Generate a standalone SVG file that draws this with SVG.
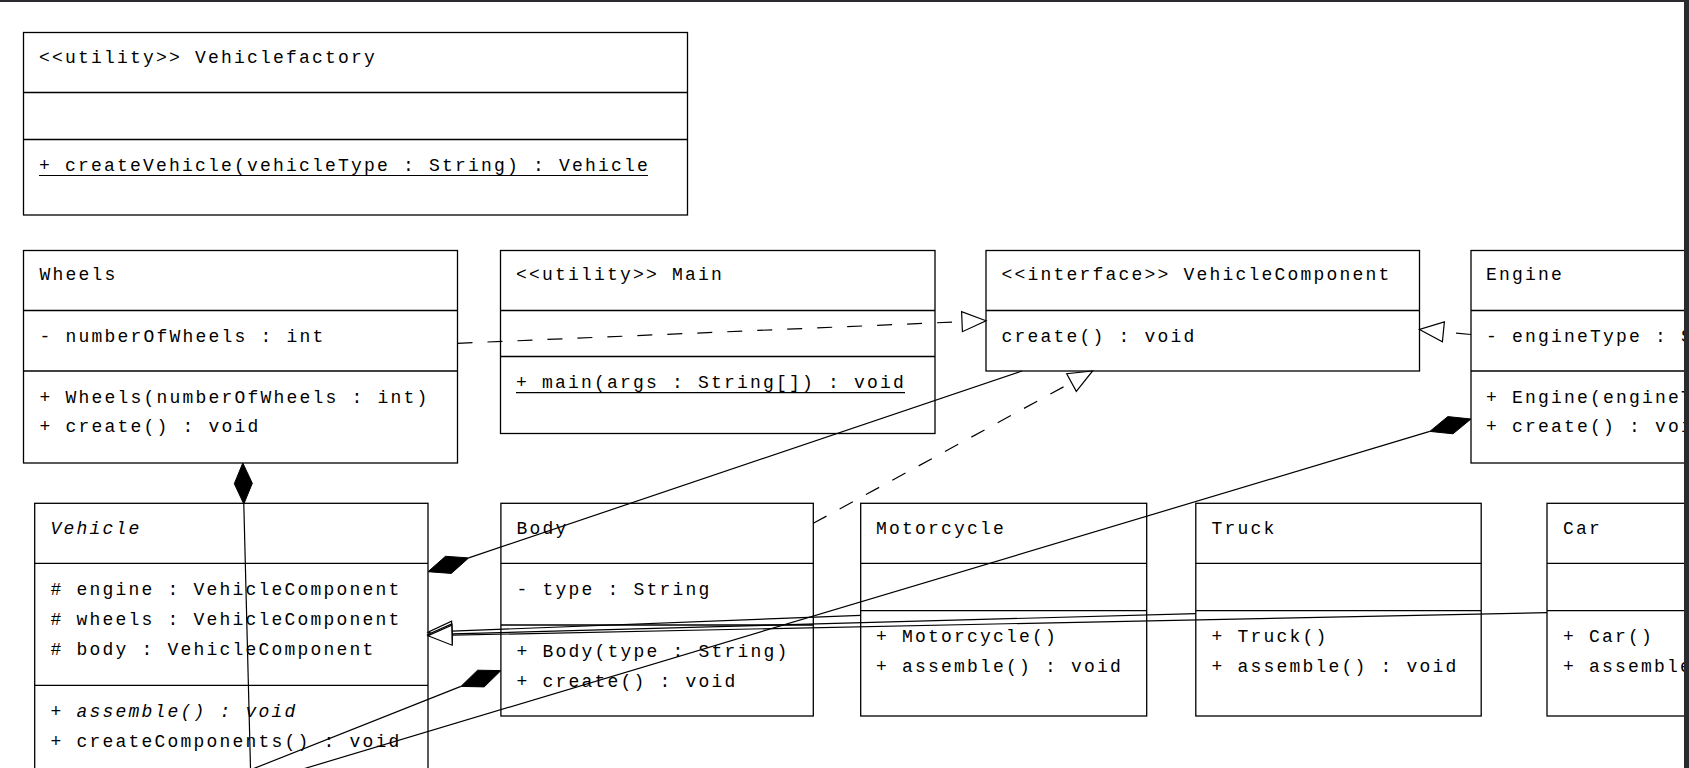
<svg xmlns="http://www.w3.org/2000/svg" width="1689" height="768" viewBox="0 0 1689 768">
<style>
.bg{fill:#ffffff}
.box{fill:#ffffff;stroke:#000;stroke-width:1.3}
.sep{stroke:#000;stroke-width:1.3}
text{font-family:"Liberation Mono","Courier New",monospace;font-size:18px;letter-spacing:2.2px;fill:#000}
.it{font-style:italic}
.ul{stroke:#000;stroke-width:1.2}
.edge{stroke:#000;stroke-width:1.2;fill:none}
.dash{stroke-dasharray:15 15}
.dia{fill:#000;stroke:#000;stroke-width:1}
.tri{fill:#fff;stroke:#000;stroke-width:1.2}
.frame{fill:#2b2b2f}
</style>
<rect class="bg" x="0" y="0" width="1689" height="768"/>

<g id="node-vehiclefactory">
<rect class="box" x="23.5" y="32.5" width="664" height="182.5"/>
<line class="sep" x1="23.5" y1="92.5" x2="687.5" y2="92.5"/>
<line class="sep" x1="23.5" y1="139.5" x2="687.5" y2="139.5"/>
<text x="39" y="62.5">&lt;&lt;utility&gt;&gt; Vehiclefactory</text>
<text x="39" y="171">+ createVehicle(vehicleType : String) : Vehicle</text>
<line class="ul" x1="39" y1="175.5" x2="648" y2="175.5"/>
</g>

<g id="node-wheels">
<rect class="box" x="23.5" y="250.5" width="434" height="212.5"/>
<line class="sep" x1="23.5" y1="310.5" x2="457.5" y2="310.5"/>
<line class="sep" x1="23.5" y1="371" x2="457.5" y2="371"/>
<text x="39.5" y="280">Wheels</text>
<text x="39.5" y="342">- numberOfWheels : int</text>
<text x="39.5" y="402.5">+ Wheels(numberOfWheels : int)</text>
<text x="39.5" y="432">+ create() : void</text>
</g>

<g id="node-main">
<rect class="box" x="500.5" y="250.5" width="434.5" height="183"/>
<line class="sep" x1="500.5" y1="310.5" x2="935" y2="310.5"/>
<line class="sep" x1="500.5" y1="356.5" x2="935" y2="356.5"/>
<text x="516" y="280">&lt;&lt;utility&gt;&gt; Main</text>
<text x="516" y="388">+ main(args : String[]) : void</text>
<line class="ul" x1="516" y1="392.7" x2="905" y2="392.7"/>
</g>

<g id="node-vehiclecomponent">
<rect class="box" x="986" y="250.5" width="433.5" height="120.5"/>
<line class="sep" x1="986" y1="310.5" x2="1419.5" y2="310.5"/>
<text x="1001.5" y="280">&lt;&lt;interface&gt;&gt; VehicleComponent</text>
<text x="1001.5" y="342">create() : void</text>
</g>

<g id="node-engine">
<rect class="box" x="1471" y="250.5" width="417" height="212.5"/>
<line class="sep" x1="1471" y1="310.5" x2="1888" y2="310.5"/>
<line class="sep" x1="1471" y1="371" x2="1888" y2="371"/>
<text x="1486" y="280">Engine</text>
<text x="1486" y="342">- engineType : String</text>
<text x="1486" y="402.5">+ Engine(engineType : String)</text>
<text x="1486" y="432">+ create() : void</text>
</g>

<g id="node-vehicle">
<rect class="box" x="34.7" y="503.3" width="393.3" height="273"/>
<line class="sep" x1="34.7" y1="563.3" x2="428" y2="563.3"/>
<line class="sep" x1="34.7" y1="685.3" x2="428" y2="685.3"/>
<text class="it" x="50.5" y="533.5">Vehicle</text>
<text x="50.5" y="594.8"># engine : VehicleComponent</text>
<text x="50.5" y="624.8"># wheels : VehicleComponent</text>
<text x="50.5" y="654.8"># body : VehicleComponent</text>
<text class="it" x="50.5" y="716.8">+ assemble() : void</text>
<text x="50.5" y="746.8">+ createComponents() : void</text>
</g>

<g id="node-body">
<rect class="box" x="500.9" y="503.3" width="312.4" height="212.7"/>
<line class="sep" x1="500.9" y1="563.3" x2="813.3" y2="563.3"/>
<line class="sep" x1="500.9" y1="625" x2="813.3" y2="625"/>
<text x="516.5" y="533.5">Body</text>
<text x="516.5" y="594.8">- type : String</text>
<text x="516.5" y="656.5">+ Body(type : String)</text>
<text x="516.5" y="686.5">+ create() : void</text>
</g>

<g id="node-motorcycle">
<rect class="box" x="860.7" y="503.3" width="286" height="212.7"/>
<line class="sep" x1="860.7" y1="563.3" x2="1146.7" y2="563.3"/>
<line class="sep" x1="860.7" y1="610.7" x2="1146.7" y2="610.7"/>
<text x="876" y="533.5">Motorcycle</text>
<text x="876" y="641.5">+ Motorcycle()</text>
<text x="876" y="671.5">+ assemble() : void</text>
</g>

<g id="node-truck">
<rect class="box" x="1195.8" y="503.3" width="285.4" height="212.7"/>
<line class="sep" x1="1195.8" y1="563.3" x2="1481.2" y2="563.3"/>
<line class="sep" x1="1195.8" y1="610.7" x2="1481.2" y2="610.7"/>
<text x="1211.5" y="533.5">Truck</text>
<text x="1211.5" y="641.5">+ Truck()</text>
<text x="1211.5" y="671.5">+ assemble() : void</text>
</g>

<g id="node-car">
<rect class="box" x="1547" y="503.3" width="285.4" height="212.7"/>
<line class="sep" x1="1547" y1="563.3" x2="1832.4" y2="563.3"/>
<line class="sep" x1="1547" y1="610.7" x2="1832.4" y2="610.7"/>
<text x="1563" y="533.5">Car</text>
<text x="1563" y="641.5">+ Car()</text>
<text x="1563" y="671.5">+ assemble() : void</text>
</g>

<g id="connectors">
<!-- realizations -->
<line class="edge dash" x1="457.5" y1="343.3" x2="962" y2="321.7"/>
<polygon class="tri" points="986,320.7 961.6,311.7 962.4,331.7"/>
<line class="edge dash" x1="1471" y1="334.5" x2="1443.4" y2="331.8"/>
<polygon class="tri" points="1419.5,329.5 1442.4,341.8 1444.4,321.9"/>
<line class="edge dash" x1="813.3" y1="523.3" x2="1071.5" y2="382.5"/>
<polygon class="tri" points="1092.6,371 1066.7,373.7 1076.3,391.3"/>
<!-- generalizations -->
<line class="edge" x1="860.7" y1="615.3" x2="452" y2="631.2"/>
<polygon class="tri" points="428,632.1 452.4,641.2 451.6,621.2"/>
<line class="edge" x1="1195.8" y1="613.6" x2="452" y2="633.9"/>
<polygon class="tri" points="428,634.5 452.3,643.9 451.7,623.9"/>
<line class="edge" x1="1547" y1="612.6" x2="452" y2="635.2"/>
<polygon class="tri" points="428,635.7 452.2,645.2 451.8,625.2"/>
<!-- compositions -->
<line class="edge" x1="1022" y1="371" x2="468.7" y2="557.9"/>
<polygon class="dia" points="428,571.7 451.3,573.4 468.7,557.9 445.5,556.3"/>
<line class="edge" x1="243.8" y1="504" x2="250.6" y2="772"/>
<polygon class="dia" points="242.8,463 234.3,483.7 243.8,504 252.3,483.3"/>
<line class="edge" x1="460.9" y1="686.4" x2="245" y2="772"/>
<polygon class="dia" points="500.9,670.6 477.6,670.2 460.9,686.4 484.2,686.9"/>
<line class="edge" x1="1429.8" y1="431.4" x2="293" y2="772"/>
<polygon class="dia" points="1471,419 1447.8,416.6 1429.8,431.4 1453,433.8"/>
</g>

<rect class="frame" x="0" y="0" width="1689" height="2"/>
<rect class="frame" x="1684" y="0" width="5" height="768"/>
</svg>
